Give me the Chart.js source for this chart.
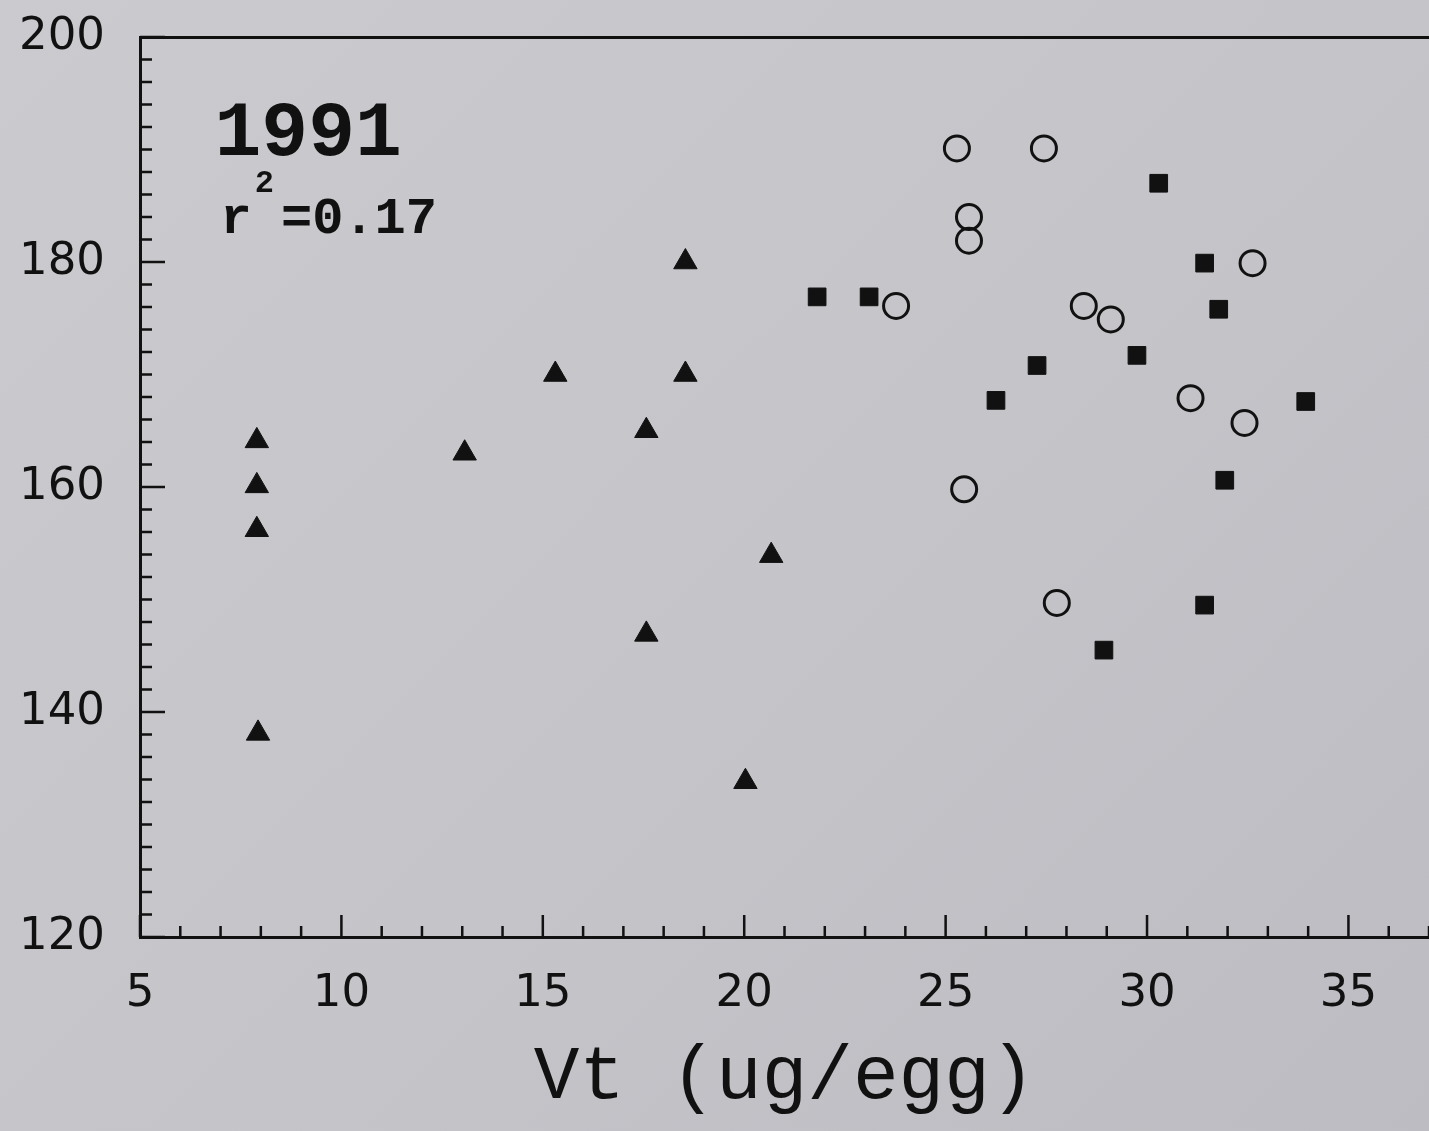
<!DOCTYPE html>
<html lang="en">
<head>
    <meta charset="UTF-8">
    <title>Vt (ug/egg) scatter, 1991</title>
    <script src="https://cdn.jsdelivr.net/npm/chart.js"></script>
    <style>
        html, body {
            margin: 0;
            padding: 0;
            overflow: hidden;
            background: linear-gradient(135deg, #cbcbcf 0%, #c4c4c9 55%, #bcbcc2 100%);
        }
        #wrap {
            width: 1429px;
            height: 1131px;
        }
        #chart {
            display: block;
        }
    </style>
</head>
<body>
    <div id="wrap">
        <canvas id="chart" width="1429" height="1131"></canvas>
    </div>

    <script>
        // axis settings
        const xMin = 5, xMax = 37, xStep = 1, xLabelEvery = 5;
        const yMin = 120, yMax = 200, yStep = 2, yLabelEvery = 20;

        // triangles
        const triX = [7.9, 7.9, 7.9, 7.93, 13.06, 15.31, 18.54, 18.54, 17.57, 17.57, 20.67, 20.03];
        const triY = [164.1, 160.1, 156.2, 138.1, 163.0, 170.0, 180.0, 170.0, 165.0, 146.9, 153.9, 133.8];

        // filled squares
        const sqX = [21.81, 23.10, 30.29, 31.43, 31.78, 29.75, 27.27, 26.25, 33.94, 31.93, 31.43, 28.93];
        const sqY = [176.9, 176.9, 187.0, 179.9, 175.8, 171.7, 170.8, 167.7, 167.6, 160.6, 149.5, 145.5];

        // open circles
        const cirX = [25.28, 27.44, 25.58, 25.58, 23.77, 28.43, 29.10, 32.62, 31.08, 32.42, 25.46, 27.76];
        const cirY = [190.1, 190.1, 184.0, 181.9, 176.1, 176.1, 174.9, 179.9, 167.9, 165.7, 159.8, 149.7];

        const toPoints = (xs, ys) => xs.map((x, i) => ({ x: x, y: ys[i] }));

        // inward tick marks, minor and major
        const innerTicks = {
            id: 'innerTicks',
            afterDraw(chart) {
                const ctx = chart.ctx;
                const area = chart.chartArea;
                const xs = chart.scales.x;
                const ys = chart.scales.y;
                ctx.save();
                ctx.strokeStyle = '#111';
                ctx.lineWidth = 2.5;
                ctx.beginPath();
                xs.ticks.forEach(t => {
                    const px = xs.getPixelForValue(t.value);
                    const len = t.value % xLabelEvery === 0 ? 22 : 11;
                    ctx.moveTo(px, area.bottom);
                    ctx.lineTo(px, area.bottom - len);
                });
                ys.ticks.forEach(t => {
                    const py = ys.getPixelForValue(t.value);
                    const len = t.value % yLabelEvery === 0 ? 25 : 12;
                    ctx.moveTo(area.left, py);
                    ctx.lineTo(area.left + len, py);
                });
                ctx.stroke();
                ctx.restore();
            }
        };

        // year and r^2 text in the upper left
        const notes = {
            id: 'notes',
            afterDraw(chart) {
                const ctx = chart.ctx;
                const xs = chart.scales.x;
                const ys = chart.scales.y;
                ctx.save();
                ctx.fillStyle = '#111';
                ctx.textBaseline = 'alphabetic';
                ctx.textAlign = 'left';

                ctx.font = 'bold 78px "Liberation Mono", "Courier New", monospace';
                ctx.fillText('1991', xs.getPixelForValue(6.85), ys.getPixelForValue(189.5));

                ctx.font = 'bold 52px "Liberation Mono", "Courier New", monospace';
                ctx.fillText('r', xs.getPixelForValue(7.0), ys.getPixelForValue(182.6));
                ctx.font = 'bold 32px "Liberation Mono", "Courier New", monospace';
                ctx.fillText('2', xs.getPixelForValue(7.85), ys.getPixelForValue(186.2));
                ctx.font = 'bold 52px "Liberation Mono", "Courier New", monospace';
                ctx.fillText('=0.17', xs.getPixelForValue(8.5), ys.getPixelForValue(182.6));
                ctx.restore();
            }
        };

        new Chart(document.getElementById('chart'), {
            type: 'scatter',
            data: {
                datasets: [
                    {
                        label: 'triangles',
                        data: toPoints(triX, triY),
                        pointStyle: 'triangle',
                        pointRadius: 13.5,
                        backgroundColor: '#111',
                        borderColor: '#111',
                        borderWidth: 1
                    },
                    {
                        label: 'squares',
                        data: toPoints(sqX, sqY),
                        pointStyle: 'rect',
                        pointRadius: 12.5,
                        backgroundColor: '#111',
                        borderColor: '#111',
                        borderWidth: 1
                    },
                    {
                        label: 'circles',
                        data: toPoints(cirX, cirY),
                        pointStyle: 'circle',
                        pointRadius: 12.5,
                        backgroundColor: 'rgba(0,0,0,0)',
                        borderColor: '#111',
                        borderWidth: 3
                    }
                ]
            },
            options: {
                responsive: false,
                animation: false,
                layout: { padding: 0, autoPadding: false },
                plugins: {
                    legend: { display: false },
                    tooltip: { enabled: false }
                },
                scales: {
                    x: {
                        type: 'linear',
                        position: 'bottom',
                        min: xMin,
                        max: xMax,
                        grid: { display: false, drawTicks: false },
                        border: { display: true, color: '#111', width: 3 },
                        ticks: {
                            stepSize: xStep,
                            autoSkip: false,
                            maxRotation: 0,
                            padding: 30,
                            color: '#111',
                            font: { family: '"DejaVu Sans", sans-serif', size: 45 },
                            callback: v => (v % xLabelEvery === 0 ? String(v) : '')
                        },
                        title: {
                            display: true,
                            text: 'Vt (ug/egg)',
                            color: '#111',
                            font: { family: '"Liberation Mono", "Courier New", monospace', size: 76 },
                            padding: { top: 0, bottom: 8 }
                        },
                        afterFit: s => {
                            s.height = 194;
                            s.paddingLeft = 0;
                            s.paddingRight = 0;
                        }
                    },
                    xTop: {
                        type: 'linear',
                        position: 'top',
                        min: xMin,
                        max: xMax,
                        grid: { display: false, drawTicks: false },
                        border: { display: true, color: '#111', width: 3 },
                        ticks: { display: false },
                        afterFit: s => {
                            s.height = 37;
                            s.paddingLeft = 0;
                            s.paddingRight = 0;
                        }
                    },
                    y: {
                        type: 'linear',
                        position: 'left',
                        min: yMin,
                        max: yMax,
                        grid: { display: false, drawTicks: false },
                        border: { display: true, color: '#111', width: 3 },
                        ticks: {
                            stepSize: yStep,
                            autoSkip: false,
                            padding: 35,
                            color: '#111',
                            font: { family: '"DejaVu Sans", sans-serif', size: 45 },
                            callback: v => (v % yLabelEvery === 0 ? String(v) : '')
                        },
                        afterFit: s => {
                            s.width = 140;
                            s.paddingTop = 0;
                            s.paddingBottom = 0;
                        }
                    }
                }
            },
            plugins: [innerTicks, notes]
        });
    </script>
</body>
</html>
